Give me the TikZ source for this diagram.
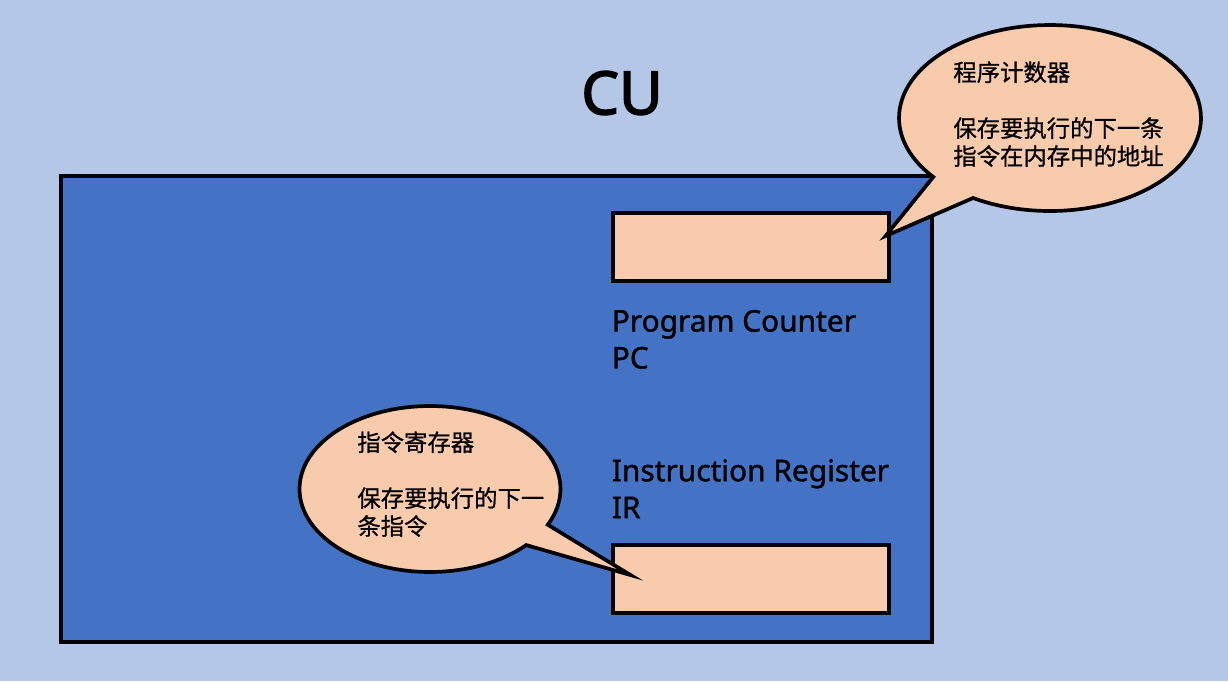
\documentclass[tikz,border=0pt]{standalone}
\usepackage{fontspec}
\setmainfont{Noto Sans}[AutoFakeBold=2.5]
\newfontfamily\labelfont{Noto Sans}[FakeBold=1.2]
\newfontfamily\cjk{Noto Sans CJK SC}[FakeBold=0.8]
\usetikzlibrary{shapes.callouts, positioning, calc}
\definecolor{bgblue}{HTML}{B4C7E7}
\definecolor{cublue}{HTML}{4472C4}
\definecolor{peach}{HTML}{F8CBAD}

\begin{document}
\begin{tikzpicture}[x=0.02cm, y=-0.02cm,
    register/.style={draw, line width=1.8pt, fill=peach, minimum width=5.52cm, minimum height=1.36cm, inner sep=0},
    reglabel/.style={inner sep=0, align=left, font=\labelfont\fontsize{17}{21}\selectfont},
    note/.style={ellipse callout, draw, line width=2.1pt, fill=peach, inner sep=0},
    notetext/.style={anchor=north west, inner sep=0, align=left, font=\cjk\fontsize{13.3}{15.9}\selectfont}]
    % Background
    \fill[bgblue] (0,0) rectangle (1228,681);
    \useasboundingbox (0,0) rectangle (1228,681);

    % Control unit
    \node (cu) [draw, line width=2.3pt, fill=cublue, minimum width=17.42cm, minimum height=9.32cm] at (496.5,409) {};
    \node (cutitle) [inner sep=0, font=\bfseries\fontsize{34}{40}\selectfont] at (622,93) {CU};

    % Registers
    \node (pc) [register] at (751,247) {};
    \node (ir) [register] at (751,579) {};
    \node (pclabel) [reglabel, below=0.54cm of pc.south west, anchor=north west] {Program Counter\\PC};
    \node (irlabel) [reglabel, above=0.5cm of ir.north west, anchor=south west] {Instruction Register\\IR};

    % Callouts
    \node (pcnote) [note, minimum width=6.04cm, minimum height=3.72cm,
        callout absolute pointer={($(pc.east)+(-5,-11)$)}, callout pointer arc=20] at (1050,118) {};
    \node (pcnotetext) [notetext] at (953,61) {程序计数器\\[15.9pt]保存要执行的下一条\\指令在内存中的地址};

    \node (irnote) [note, minimum width=5.22cm, minimum height=3.32cm,
        callout absolute pointer={($(ir.west)+(19,-4)$)}, callout pointer arc=17] at (430,489) {};
    \node (irnotetext) [notetext] at (357,431) {指令寄存器\\[15.9pt]保存要执行的下一\\条指令};
\end{tikzpicture}
\end{document}
